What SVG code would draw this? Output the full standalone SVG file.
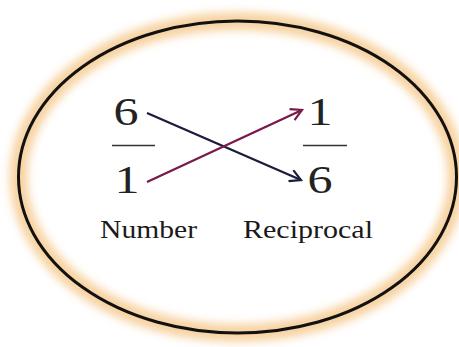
<svg xmlns="http://www.w3.org/2000/svg" width="459" height="347" viewBox="0 0 459 347">
<style>
.dig{font-family:"Liberation Serif","Times New Roman",serif;font-size:41px;fill:#222}
.lbl{font-family:"Liberation Serif","Times New Roman",serif;font-size:25px;fill:#1a1a1a}
.bar{stroke:#333;stroke-width:1.5}
</style>
<defs>
<filter id="glow" x="-20%" y="-20%" width="140%" height="140%"><feGaussianBlur stdDeviation="4"/></filter>
<marker id="hb" viewBox="0 0 14 14" refX="12" refY="7" markerWidth="14" markerHeight="14" markerUnits="userSpaceOnUse" orient="auto"><path d="M1 1 L12 7 L1 13" fill="none" stroke="#1c1c3c" stroke-width="2.2"/></marker>
<marker id="hm" viewBox="0 0 14 14" refX="12" refY="7" markerWidth="14" markerHeight="14" markerUnits="userSpaceOnUse" orient="auto"><path d="M1 1 L12 7 L1 13" fill="none" stroke="#7a1a4c" stroke-width="2.2"/></marker>
</defs>
<rect width="459" height="347" fill="#fff"/>
<g id="frame">
<ellipse cx="237.5" cy="177" rx="219" ry="156" fill="none" stroke="#f5c88a" stroke-width="18" filter="url(#glow)" opacity="0.8"/>
<ellipse cx="237.5" cy="177" rx="219" ry="156" fill="none" stroke="#111" stroke-width="3"/>
</g>
<g id="number">
<text class="dig" x="126" y="125" text-anchor="middle" textLength="25" lengthAdjust="spacingAndGlyphs">6</text>
<line class="bar" x1="112" y1="145.5" x2="155" y2="145.5"/>
<text class="dig" x="127" y="193" text-anchor="middle" textLength="25" lengthAdjust="spacingAndGlyphs">1</text>
<text class="lbl" x="100" y="238" textLength="97" lengthAdjust="spacingAndGlyphs">Number</text>
</g>
<g id="reciprocal">
<text class="dig" x="320" y="125" text-anchor="middle" textLength="25" lengthAdjust="spacingAndGlyphs">1</text>
<line class="bar" x1="303" y1="145.5" x2="347" y2="145.5"/>
<text class="dig" x="320" y="193" text-anchor="middle" textLength="25" lengthAdjust="spacingAndGlyphs">6</text>
<text class="lbl" x="243" y="238" textLength="130" lengthAdjust="spacingAndGlyphs">Reciprocal</text>
</g>
<g id="connectors" fill="none" stroke-width="2.4">
<line x1="147" y1="113" x2="301" y2="180" stroke="#1c1c3c" marker-end="url(#hb)"/>
<line x1="147" y1="182" x2="302" y2="110" stroke="#7a1a4c" marker-end="url(#hm)"/>
</g>
</svg>
